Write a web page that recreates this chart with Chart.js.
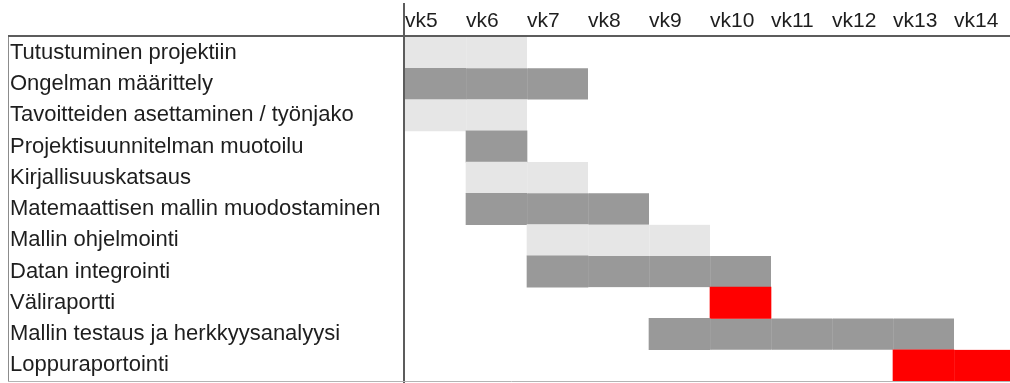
<!DOCTYPE html>
<html>
<head>
<meta charset="utf-8">
<script src="https://cdn.jsdelivr.net/npm/chart.js@4/dist/chart.umd.min.js"></script>
<style>
  html, body { margin: 0; padding: 0; background: #fff; overflow: hidden; }
  #wrap { width: 1010px; height: 383px; overflow: hidden; }
  canvas { display: block; }
</style>
</head>
<body>
<div id="wrap"><canvas id="gantt" width="1015" height="383"></canvas></div>
<script>
// Project schedule: week columns and task rows
const weeks = ['vk5', 'vk6', 'vk7', 'vk8', 'vk9', 'vk10', 'vk11', 'vk12', 'vk13', 'vk14'];
const tasks = [
  'Tutustuminen projektiin',
  'Ongelman määrittely',
  'Tavoitteiden asettaminen / työnjako',
  'Projektisuunnitelman muotoilu',
  'Kirjallisuuskatsaus',
  'Matemaattisen mallin muodostaminen',
  'Mallin ohjelmointi',
  'Datan integrointi',
  'Väliraportti',
  'Mallin testaus ja herkkyysanalyysi',
  'Loppuraportointi'
];
// index into weeks where each task begins, and how many weeks it lasts
const startWeek = [0, 0, 0, 1, 1, 1, 2, 2, 5, 4, 8];
const weekCount = [2, 3, 2, 1, 2, 3, 3, 4, 1, 5, 2];
const phaseKind = ['light', 'dark', 'light', 'dark', 'light', 'dark', 'light', 'dark', 'red', 'dark', 'red'];

const kindFill = { light: '#e6e6e6', dark: '#999999', red: '#ff0000' };
const kindSeparator = { light: '#eeeeee', dark: '#a8a8a8', red: '#ff3030' };

// one dataset per week offset so every week cell is its own block
const maxSpan = Math.max(...weekCount);
const datasets = [];
for (let k = 0; k < maxSpan; k++) {
  datasets.push({
    data: tasks.map((t, i) => k < weekCount[i] ? [startWeek[i] + k, startWeek[i] + k + 1] : null),
    backgroundColor: phaseKind.map(p => kindFill[p]),
    borderColor: phaseKind.map(p => kindSeparator[p]),
    borderWidth: k === 0 ? 0 : { left: 1, top: 0, right: 0, bottom: 0 },
    borderSkipped: false,
    grouped: false,
    barPercentage: 1,
    categoryPercentage: 1
  });
}

const framePlugin = {
  id: 'frame',
  afterDatasetsDraw(chart) {
    const { ctx, chartArea: a } = chart;
    const w = chart.width, h = chart.height;
    ctx.save();
    const seg = (x1, y1, x2, y2) => { ctx.beginPath(); ctx.moveTo(x1, y1); ctx.lineTo(x2, y2); ctx.stroke(); };
    ctx.strokeStyle = '#5c5c5c';
    ctx.lineWidth = 2;
    seg(8, a.top - 1, w, a.top - 1);
    seg(a.left - 1, 3, a.left - 1, h);
    ctx.lineWidth = 1;
    ctx.strokeStyle = '#8c8c8c';
    seg(8.5, a.top, 8.5, a.bottom + 1);
    ctx.strokeStyle = '#b4b4b4';
    seg(8, a.bottom + 0.5, w, a.bottom + 0.5);
    ctx.restore();
  }
};

Chart.defaults.font.family = '"Liberation Sans", Arial, sans-serif';
Chart.defaults.font.size = 21;
Chart.defaults.color = '#1e1e1e';

new Chart(document.getElementById('gantt'), {
  type: 'bar',
  data: { labels: tasks, datasets },
  options: {
    indexAxis: 'y',
    responsive: false,
    animation: false,
    events: [],
    layout: { padding: { left: 10, top: 0, right: 0, bottom: 2 } },
    plugins: { legend: { display: false }, tooltip: { enabled: false } },
    scales: {
      x: {
        type: 'linear',
        position: 'top',
        min: 0,
        max: weeks.length,
        grid: { display: false, drawTicks: false },
        border: { display: false },
        afterFit(scale) {
          scale.height = 37;
          scale.paddingLeft = 0;
          scale.paddingRight = 0;
        },
        afterBuildTicks(scale) { scale.ticks = weeks.map((w, i) => ({ value: i })); },
        ticks: {
          align: 'start',
          padding: 3,
          maxRotation: 0,
          autoSkip: false,
          callback: (v, i) => weeks[i]
        }
      },
      y: {
        type: 'category',
        grid: { display: false, drawTicks: false },
        border: { display: false },
        afterFit(scale) {
          scale.width = 395;
          scale.paddingTop = 0;
          scale.paddingBottom = 0;
        },
        ticks: { crossAlign: 'far', padding: 0, autoSkip: false, font: { size: 22 } }
      }
    }
  },
  plugins: [framePlugin]
});
</script>
</body>
</html>
